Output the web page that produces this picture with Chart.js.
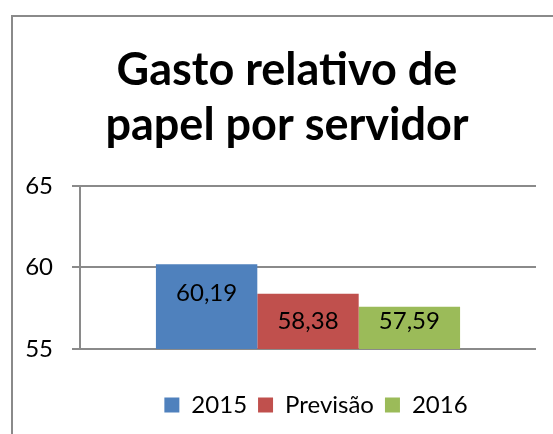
<!DOCTYPE html>
<html>
<head>
<meta charset="utf-8">
<script src="https://cdn.jsdelivr.net/npm/chart.js@4"></script>
<style>
	html, body { margin: 0; padding: 0; background: #fff; }
	body { width: 553px; height: 434px; overflow: hidden; position: relative; }
	#frame { position: absolute; left: 11px; top: 15px; width: 700px; height: 600px; border: 2px solid #8a8a8a; }
	#wrap { position: absolute; left: 0; top: 0; width: 553px; height: 434px; }
</style>
</head>
<body>
<div id="frame"></div>
<div id="wrap"><canvas id="myChart" width="553" height="434"></canvas></div>
<script>
let titleLines = ["Gasto relativo de", "papel por servidor"];
let seriesNames = ["2015", "Previsão", "2016"];
let seriesValues = [60.19, 58.38, 57.59];
let seriesColors = ["#4F81BD", "#C0504D", "#9BBB59"];
let yTicks = [55, 60, 65];
let fontName = "Lato";
var ctx = document.getElementById("myChart");

// write values like 60,19
function formatValue(v) {
	return v.toFixed(2).replace(".", ",");
}

// labels near the top of each bar, but kept inside short bars
const barLabels = {
	id: "barLabels",
	afterDatasetsDraw(chart) {
		const c = chart.ctx;
		const bottom = chart.chartArea.bottom; // bars start at 0, so use the axis floor
		c.save();
		c.font = "24px " + fontName;
		c.fillStyle = "#000";
		c.textAlign = "center";
		c.textBaseline = "middle";
		chart.data.datasets.forEach((ds, i) => {
			const bar = chart.getDatasetMeta(i).data[0];
			let y = Math.min(bar.y + 29, bottom - 28);
			c.fillText(formatValue(ds.data[0]), bar.x, y);
		});
		c.restore();
	},
};

// title is centred on the frame, legend a bit right of the plot centre
function moveBox(box, centre) {
	const d = centre - (box.left + box.right) / 2;
	box.left += d;
	box.right += d;
}
const boxShift = {
	id: "boxShift",
	afterLayout(chart) {
		const plotMid = (chart.chartArea.left + chart.chartArea.right) / 2;
		moveBox(chart.titleBlock, 287);
		moveBox(chart.legend, plotMid + 8);
	},
};

let datasets = seriesNames.map((name, i) => ({
	label: name,
	data: [seriesValues[i]],
	backgroundColor: seriesColors[i],
	borderWidth: 0,
	categoryPercentage: 0.667,
	barPercentage: 1,
}));

var myChart = new Chart(ctx, {
	type: "bar",
	data: {
		labels: [""],
		datasets: datasets,
	},
	options: {
		responsive: false,
		animation: false,
		layout: { padding: { left: 0, right: 17, top: 0, bottom: 7 } },
		plugins: {
			title: {
				display: true,
				text: titleLines,
				color: "#000",
				font: { family: fontName, size: 45, weight: "bold", lineHeight: 1.22 },
				padding: { top: 43, bottom: 33 },
			},
			legend: {
				position: "bottom",
				labels: {
					color: "#000",
					font: { family: fontName, size: 24 },
					boxWidth: 15,
					boxHeight: 15,
					padding: 11,
				},
			},
			tooltip: { enabled: false },
		},
		scales: {
			x: {
				ticks: { display: false },
				grid: { display: false },
				border: { display: false },
				afterFit: (scale) => { scale.height = 33; },
			},
			y: {
				min: 55,
				max: 65,
				afterBuildTicks: (scale) => { scale.ticks = yTicks.map((v) => ({ value: v })); },
				ticks: {
					color: "#000",
					font: { family: fontName, size: 24 },
					padding: 19,
				},
				grid: { color: "#8a8a8a", lineWidth: 2, tickLength: 8 },
				border: { display: true, color: "#8a8a8a", width: 2 },
				afterFit: (scale) => { scale.width = 80; },
			},
		},
	},
	plugins: [barLabels, boxShift],
});
</script>
</body>
</html>
